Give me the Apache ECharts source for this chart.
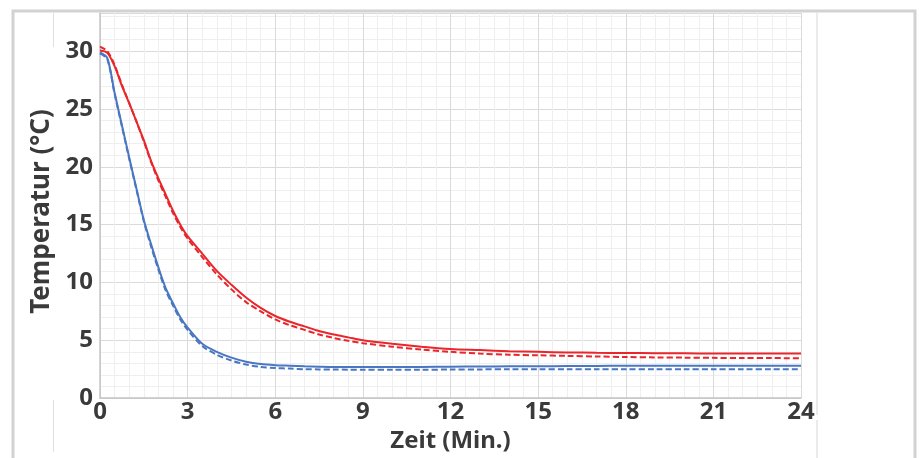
<!DOCTYPE html>
<html>
<head>
<meta charset="utf-8">
<script src="https://cdn.jsdelivr.net/npm/echarts@6/dist/echarts.min.js"></script>
<style>
html,body{margin:0;padding:0;background:#fff;}
#chart{width:919px;height:458px;}
</style>
</head>
<body>
<div id="chart"></div>
<script>
const xTicks = [0, 3, 6, 9, 12, 15, 18, 21, 24];
const yTicks = [0, 5, 10, 15, 20, 25, 30];
const xTitle = 'Zeit (Min.)';
const yTitle = 'Temperatur (°C)';

const time = [0,0.25,0.5,0.75,1,1.25,1.5,1.75,2,2.25,2.5,2.75,3,3.5,4,4.5,5,5.5,6,6.5,7,7.5,8,8.5,9,10,11,12,13,14,15,16,17,18,19,20,21,22,23,24];

const redSolid  = [30.05,29.85,28.7,27.0,25.5,23.9,22.3,20.5,19.0,17.6,16.2,15.0,14.0,12.5,11.0,9.8,8.7,7.8,7.1,6.6,6.2,5.8,5.5,5.25,5.0,4.7,4.45,4.25,4.15,4.05,4.0,3.95,3.92,3.9,3.88,3.87,3.86,3.85,3.85,3.85];
const redDashed = [30.4,30.0,28.8,27.1,25.5,23.9,22.2,20.4,18.8,17.4,16.0,14.8,13.8,12.2,10.7,9.4,8.3,7.5,6.8,6.3,5.9,5.5,5.2,4.95,4.75,4.45,4.2,4.0,3.85,3.75,3.7,3.65,3.6,3.55,3.52,3.5,3.48,3.47,3.46,3.45];
const blueSolid = [29.9,29.4,26.4,23.6,20.8,18.1,15.4,13.3,11.3,9.5,8.2,7.0,6.1,4.7,4.0,3.5,3.15,2.95,2.85,2.8,2.75,2.72,2.7,2.7,2.7,2.7,2.7,2.72,2.73,2.75,2.75,2.77,2.78,2.8,2.8,2.8,2.8,2.8,2.8,2.8];
const blueDashed = [29.8,29.3,26.3,23.5,20.7,18.0,15.3,13.1,11.1,9.3,8.0,6.8,5.9,4.5,3.75,3.25,2.9,2.7,2.6,2.55,2.5,2.48,2.47,2.46,2.46,2.45,2.45,2.47,2.48,2.5,2.5,2.5,2.5,2.5,2.5,2.5,2.5,2.5,2.5,2.5];

const RED = '#e8262b';
const BLUE = '#4a77c1';
const TXT = '#3a3a3a';
const FONT = '"Noto Sans", sans-serif';

function pairs(xs, ys){ return xs.map((x,i)=>[x, ys[i]]); }

const chart = echarts.init(document.getElementById('chart'), null, {renderer:'canvas'});
const yMax = 33.3;

const option = {
  animation: false,
  backgroundColor: '#ffffff',
  grid: {left: 100, right: 118, top: 13, bottom: 48, containLabel: false},
  xAxis: [{
    type: 'value', position: 'bottom', min: xTicks[0], max: xTicks[xTicks.length-1], interval: 3,
    name: xTitle, nameLocation: 'middle', nameGap: 16,
    nameTextStyle: {color: TXT, fontSize: 24, fontWeight: 'bold', fontFamily: FONT},
    axisLine: {show: true, lineStyle: {color: '#c4c4c4', width: 1.5}},
    axisTick: {show: false},
    axisLabel: {color: TXT, fontSize: 24, fontWeight: 'bold', fontFamily: FONT, margin: 2},
    splitLine: {show: true, lineStyle: {color: '#dadada', width: 1}},
    minorTick: {show: false, splitNumber: 6},
    minorSplitLine: {show: true, lineStyle: {color: '#efefef', width: 1}}
  }],
  yAxis: [{
    type: 'value', position: 'left', min: 0, max: yMax, interval: 1,
    axisLine: {show: false}, axisTick: {show: false}, axisLabel: {show: false},
    splitLine: {show: true, lineStyle: {color: '#efefef', width: 1}}
  },{
    type: 'value', position: 'left', offset: 0, min: yTicks[0], max: yMax, interval: 5,
    name: yTitle, nameLocation: 'middle', nameGap: 33, nameRotate: 90,
    nameTextStyle: {color: TXT, fontSize: 26, fontWeight: 'bold', fontFamily: FONT, padding: [0, 12, 0, 0]},
    axisLine: {show: true, onZero: false, lineStyle: {color: '#c4c4c4', width: 1.5}},
    axisTick: {show: false},
    axisLabel: {color: TXT, fontSize: 24, fontWeight: 'bold', fontFamily: FONT, margin: 7, showMaxLabel: false,
      padding: [0,0,6,0]},
    splitLine: {show: true, lineStyle: {color: '#dadada', width: 1}}
  }],
  series: [
    {type:'line', name:'rot gestrichelt', xAxisIndex:0, yAxisIndex:1, data: pairs(time, redDashed), showSymbol:false, smooth:0.3,
      lineStyle:{color:RED, width:2, type:[6,3]}, z:3},
    {type:'line', name:'rot', xAxisIndex:0, yAxisIndex:1, data: pairs(time, redSolid), showSymbol:false, smooth:0.3,
      lineStyle:{color:RED, width:2}, z:4},
    {type:'line', name:'blau gestrichelt', xAxisIndex:0, yAxisIndex:1, data: pairs(time, blueDashed), showSymbol:false, smooth:0.3,
      lineStyle:{color:BLUE, width:2, type:[6,3]}, z:3},
    {type:'line', name:'blau', xAxisIndex:0, yAxisIndex:1, data: pairs(time, blueSolid), showSymbol:false, smooth:0.3,
      lineStyle:{color:BLUE, width:2}, z:4}
  ],
  graphic: [
    {type:'rect', shape:{x:13, y:11, width:902, height:470}, style:{fill:'none', stroke:'#d2d2d2', lineWidth:3}, z:100},
    {type:'line', shape:{x1:817, y1:12, x2:817, y2:415}, style:{stroke:'#e4e4e4', lineWidth:1.5}, z:100},
    {type:'line', shape:{x1:817, y1:420, x2:817, y2:458}, style:{stroke:'#e4e4e4', lineWidth:1.5}, z:100},
    {type:'line', shape:{x1:53.5, y1:13, x2:53.5, y2:47}, style:{stroke:'#e0e0e0', lineWidth:1}, z:100},
    {type:'line', shape:{x1:53.5, y1:400, x2:53.5, y2:452}, style:{stroke:'#e0e0e0', lineWidth:1}, z:100}
  ]
};
chart.setOption(option);
</script>
</body>
</html>
